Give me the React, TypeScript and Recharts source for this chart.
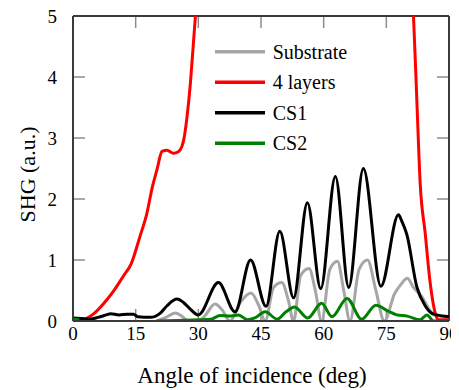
import React from 'react';
import { LineChart, Line, XAxis, YAxis, Legend, ReferenceLine } from 'recharts';

// ---- data ----
const xTicks = [0, 15, 30, 45, 60, 75, 90];
const yTicks = [0, 1, 2, 3, 4, 5];
const xInnerTicks = [15, 30, 45, 60, 75];
const yInnerTicks = [1, 2, 3, 4];

const substrateAngle = [20, 22, 24.5, 26, 27.7, 30, 31.5, 34, 35.5, 37.6, 40, 42.6, 44.5, 46, 48, 50, 51.5, 52.8, 54.5, 56.5, 58, 59.5, 61.5, 63.3, 64.8, 66.3, 68.5, 70.5, 72.5, 74.5, 77, 78.5, 80, 81.5, 83.5, 85.2, 86.5, 88.6, 90];
const substrateValue = [0, 0.05, 0.13, 0.08, 0, 0, 0.08, 0.28, 0.2, 0, 0.3, 0.46, 0.25, 0, 0.55, 0.63, 0.35, 0, 0.75, 0.86, 0.5, 0, 0.85, 0.98, 0.5, 0, 0.85, 1.0, 0.5, 0, 0.45, 0.6, 0.7, 0.55, 0.4, 0.2, 0.1, 0.07, 0.05];

const layersAngle = [2, 5, 8, 10, 12, 14, 16, 17.7, 19, 20.1, 21.3, 22.5, 24, 25.3, 26.5, 27.3, 28.1, 28.7, 29.3, 30, 31, 35, 55, 75, 80, 81, 81.5, 82.3, 83.1, 84.3, 85.5, 86.7, 87.5, 90];
const layersValue = [0, 0.12, 0.34, 0.52, 0.73, 0.95, 1.38, 1.77, 2.2, 2.48, 2.78, 2.8, 2.75, 2.78, 2.97, 3.35, 3.9, 4.44, 5.0, 5.7, 6.8, 12, 18, 12, 7, 5.6, 5.0, 3.62, 2.26, 1.44, 0.62, 0.13, 0.02, 0.02];

const cs1Angle = [0, 2, 4, 6, 8, 9, 11, 13, 14.5, 15.5, 18.5, 20.9, 22.5, 24.9, 26.5, 28, 30, 34.8, 38.8, 42.5, 46.2, 49.5, 52.8, 56.1, 59.3, 62.8, 66, 69.5, 73.7, 77.9, 78.8, 79.9, 82.3, 84.3, 86, 87.1, 90];
const cs1Value = [0.05, 0.04, 0.03, 0.06, 0.1, 0.12, 0.1, 0.11, 0.11, 0.07, 0.06, 0.13, 0.25, 0.36, 0.3, 0.2, 0.1, 0.63, 0.15, 1.0, 0.24, 1.47, 0.38, 1.94, 0.53, 2.37, 0.55, 2.5, 0.57, 1.74, 1.62, 1.42, 0.56, 0.25, 0.12, 0.1, 0.07];

const cs2Angle = [0, 1.5, 10, 20, 25, 30, 33, 35.2, 37.6, 39.6, 41.8, 43.5, 46, 48.9, 51, 53, 56.2, 59.5, 62, 65.6, 69.1, 72.5, 75.5, 77.5, 80, 83.1, 84.7, 86.3, 90];
const cs2Value: (number | null)[] = [0.03, 0.02, null, 0, 0.01, 0.02, 0.03, 0.09, 0.08, 0.1, 0.02, 0.05, 0.15, 0.03, 0.15, 0.23, 0.05, 0.29, 0.07, 0.37, 0.03, 0.26, 0.16, 0.1, 0.08, 0.02, 0.1, 0, 0];

const seriesNames = ['Substrate', '4 layers', 'CS1', 'CS2'];
const seriesColors = ['#a6a6a6', '#ff0000', '#000000', '#008000'];

const toPoints = (a: number[], v: (number | null)[]) => a.map((x, i) => ({ x, y: v[i] }));

const substrateData = toPoints(substrateAngle, substrateValue);
const layersData = toPoints(layersAngle, layersValue);
const cs1Data = toPoints(cs1Angle, cs1Value);
const cs2Data = toPoints(cs2Angle, cs2Value);

const FONT = 'Liberation Serif';
const FRAME = '#3a3a3a';
const TICK = '#8c8c8c';
const TICK_LEN = 12;

const LeftTick = (props: any) => {
  const { x, y, payload } = props;
  return (
    <text x={x} y={y} dy="0.35em" textAnchor="end" fontFamily={FONT} fontSize={19} fill="#000">
      {payload.value}
    </text>
  );
};

const BottomTick = (props: any) => {
  const { x, y, payload } = props;
  return (
    <text x={x} y={y} dy="0.71em" textAnchor="middle" fontFamily={FONT} fontSize={19} fill="#000">
      {payload.value}
    </text>
  );
};

// inward tick marks at both ends of a horizontal reference line
const HTickShape = (props: any) => {
  const { x1, x2, y1 } = props;
  const l = Math.min(x1, x2);
  const r = Math.max(x1, x2);
  return (
    <g>
      <line x1={l} x2={l + TICK_LEN} y1={y1} y2={y1} stroke={TICK} strokeWidth={1.5} />
      <line x1={r - TICK_LEN} x2={r} y1={y1} y2={y1} stroke={TICK} strokeWidth={1.5} />
    </g>
  );
};

// inward tick marks at both ends of a vertical reference line
const VTickShape = (props: any) => {
  const { y1, y2, x1 } = props;
  const t = Math.min(y1, y2);
  const b = Math.max(y1, y2);
  return (
    <g>
      <line x1={x1} x2={x1} y1={t} y2={t + TICK_LEN} stroke={TICK} strokeWidth={1.5} />
      <line x1={x1} x2={x1} y1={b - TICK_LEN} y2={b} stroke={TICK} strokeWidth={1.5} />
    </g>
  );
};

const XTitle = (props: any) => {
  const { viewBox } = props;
  const cx = viewBox.x + viewBox.width / 2 - 9;
  return (
    <text x={cx} y={viewBox.y + 62} textAnchor="middle" fontFamily={FONT} fontSize={23} fill="#000">
      Angle of incidence (deg)
    </text>
  );
};

const YTitle = (props: any) => {
  const { viewBox } = props;
  const cx = 27;
  const cy = viewBox.y + viewBox.height / 2 + 6;
  return (
    <text
      x={cx}
      y={cy}
      dy="0.35em"
      textAnchor="middle"
      transform={`rotate(-90, ${cx}, ${cy})`}
      fontFamily={FONT}
      fontSize={22}
      fill="#000"
    >
      SHG (a.u.)
    </text>
  );
};

const LegendBox = () => (
  <svg width={170} height={130} style={{ display: 'block' }}>
    {seriesNames.map((name, i) => {
      const cy = 13.7 + i * 30.5;
      return (
        <g key={name}>
          <line x1={0} x2={50} y1={cy} y2={cy} stroke={seriesColors[i]} strokeWidth={3.5} />
          <text x={57.7} y={cy} dy="0.35em" fontFamily={FONT} fontSize={20} fill="#000">
            {name}
          </text>
        </g>
      );
    })}
  </svg>
);

export default function App() {
  return (
    <div style={{ margin: '-8px 0 0 -8px', fontFamily: FONT, width: 459, height: 390 }}>
      <LineChart width={459} height={390} margin={{ top: 16, right: 10, left: 8, bottom: 9 }}>
        <XAxis
          dataKey="x"
          type="number"
          domain={[0, 90]}
          ticks={xTicks}
          allowDataOverflow
          height={60}
          tickSize={0}
          tickMargin={6}
          tickLine={false}
          axisLine={{ stroke: FRAME, strokeWidth: 2 }}
          tick={<BottomTick />}
          interval={0}
          label={<XTitle />}
        />
        <YAxis
          type="number"
          domain={[0, 5]}
          ticks={yTicks}
          allowDataOverflow
          width={65}
          tickSize={0}
          tickMargin={16}
          tickLine={false}
          axisLine={{ stroke: FRAME, strokeWidth: 2 }}
          tick={<LeftTick />}
          interval={0}
          label={<YTitle />}
        />
        {yInnerTicks.map((v) => (
          <ReferenceLine key={`yt${v}`} y={v} shape={<HTickShape />} stroke={TICK} />
        ))}
        {xInnerTicks.map((v) => (
          <ReferenceLine key={`xt${v}`} x={v} shape={<VTickShape />} stroke={TICK} />
        ))}
        <ReferenceLine x={90} stroke={FRAME} strokeWidth={2} />
        <ReferenceLine y={5} stroke={FRAME} strokeWidth={2} />
        <Legend
          layout="vertical"
          align="center"
          verticalAlign="middle"
          content={<LegendBox />}
          wrapperStyle={{ position: 'absolute', left: 215, top: 38, width: 170, height: 130 }}
        />
        <Line data={substrateData} dataKey="y" name="Substrate" type="monotone" stroke={seriesColors[0]} strokeWidth={3} dot={false} activeDot={false} isAnimationActive={false} />
        <Line data={layersData} dataKey="y" name="4 layers" type="monotone" stroke={seriesColors[1]} strokeWidth={3} dot={false} activeDot={false} isAnimationActive={false} />
        <Line data={cs1Data} dataKey="y" name="CS1" type="monotone" stroke={seriesColors[2]} strokeWidth={3} dot={false} activeDot={false} isAnimationActive={false} />
        <Line data={cs2Data} dataKey="y" name="CS2" type="monotone" stroke={seriesColors[3]} strokeWidth={3} dot={false} activeDot={false} isAnimationActive={false} />
      </LineChart>
    </div>
  );
}
